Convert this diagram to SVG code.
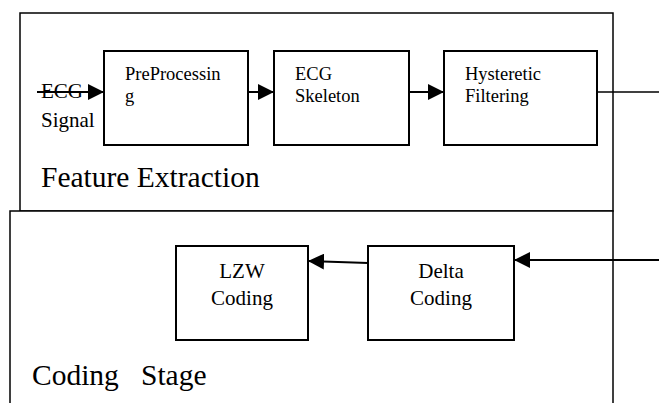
<svg xmlns="http://www.w3.org/2000/svg" width="659" height="403" viewBox="0 0 659 403">
<style>
.frame{fill:#fff;stroke:#000;stroke-width:1.5}
.box{fill:#fff;stroke:#000;stroke-width:2}
.t{font-family:"Liberation Serif","Times New Roman",serif;font-size:18.5px;fill:#000}
.m{font-family:"Liberation Serif","Times New Roman",serif;font-size:21px;fill:#000}
.big{font-family:"Liberation Serif","Times New Roman",serif;font-size:29.5px;fill:#000;white-space:pre}
.c{text-anchor:middle}
.ln{stroke:#000;stroke-width:2;fill:none}
.thin{stroke:#000;stroke-width:1.5;fill:none}
</style>
<defs>
<marker id="ah" markerUnits="userSpaceOnUse" markerWidth="16" markerHeight="16" refX="16" refY="8" orient="auto">
<path d="M0,0 L16,8 L0,16 z" fill="#000"/>
</marker>
</defs>
<g id="feature-extraction">
<rect class="frame" x="20" y="13" width="593" height="198"/>
<text class="big" x="41" y="187">Feature Extraction</text>
</g>
<g id="coding-stage">
<rect class="frame" x="10" y="211" width="603" height="200"/>
<text class="big" x="32" y="385">Coding   Stage</text>
</g>
<g id="ecg-signal">
<text class="m" x="41" y="98">ECG</text>
<text class="m" x="41" y="127">Signal</text>
</g>
<g id="preprocessing">
<rect class="box" x="104" y="51" width="144" height="94"/>
<text class="t" x="125" y="80">PreProcessin</text>
<text class="t" x="125" y="102">g</text>
</g>
<g id="ecg-skeleton">
<rect class="box" x="274" y="51" width="135" height="94"/>
<text class="t" x="295" y="80">ECG</text>
<text class="t" x="295" y="102">Skeleton</text>
</g>
<g id="hysteretic-filtering">
<rect class="box" x="444" y="51" width="153" height="94"/>
<text class="t" x="465" y="80">Hysteretic</text>
<text class="t" x="465" y="102">Filtering</text>
</g>
<g id="lzw-coding">
<rect class="box" x="176" y="246" width="132" height="94"/>
<text class="m c" x="242" y="278">LZW</text>
<text class="m c" x="242" y="305">Coding</text>
</g>
<g id="delta-coding">
<rect class="box" x="368" y="246" width="146" height="94"/>
<text class="m c" x="441" y="278">Delta</text>
<text class="m c" x="441" y="305">Coding</text>
</g>
<g id="connectors">
<line class="ln" x1="37" y1="92" x2="104" y2="92" marker-end="url(#ah)"/>
<line class="ln" x1="248" y1="92" x2="274" y2="92" marker-end="url(#ah)"/>
<line class="ln" x1="409" y1="92" x2="444" y2="92" marker-end="url(#ah)"/>
<line class="thin" x1="597" y1="92" x2="659" y2="92"/>
<line class="ln" x1="659" y1="260" x2="514" y2="260" marker-end="url(#ah)"/>
<line class="ln" x1="368" y1="263" x2="308" y2="261" marker-end="url(#ah)"/>
</g>
</svg>
